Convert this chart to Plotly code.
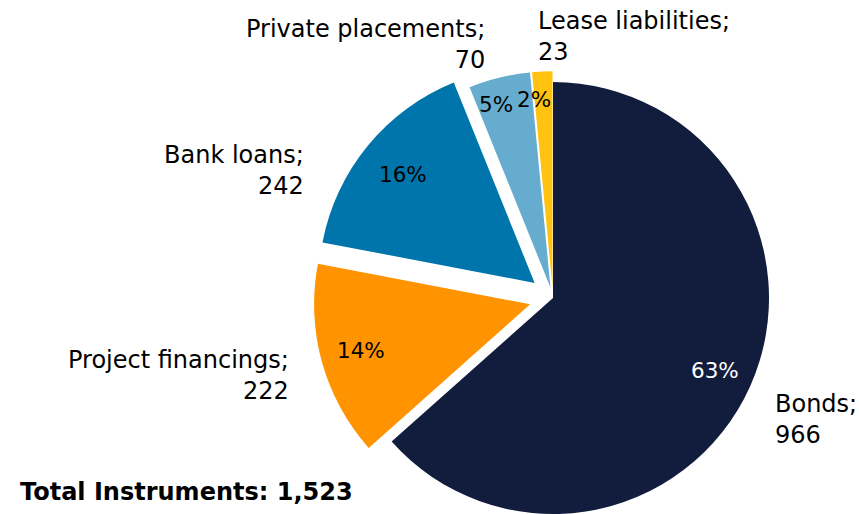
import numpy as np
import plotly.graph_objects as go

# data
labels = ["Bonds", "Project financings", "Bank loans", "Private placements", "Lease liabilities"]
counts = [966, 222, 242, 70, 23]
pct_text = ["63%", "14%", "16%", "5%", "2%"]   # as printed on the source chart
total_label = "Total Instruments: 1,523"

# styling
colors = ["#121D3D", "#FF9300", "#0075AC", "#66ACCF", "#FFC20E"]
pulls = [0, 0.11, 0.11, 0.05, 0.05]
pct_colors = ["white", "black", "black", "black", "black"]
pct_r = [0.82, 0.81, 0.79, 0.87, 0.87]     # radial spot of the % text, fraction of r
pct_xshift = [0, 0, 0, -10, -10]

# outside label anchors (pixels), alignment
lab_pos = [(773, 419, "left"), (291, 375, "right"), (306, 171, "right"),
           (487, 45, "right"), (536, 36, "left")]

W, H = 859, 538          # window is 514 tall; the pie runs off the bottom edge as in the source
FONT = "DejaVu Sans, Verdana, sans-serif"

##
## pie geometry
##
cx_px, cy_px, r = 553, 298, 216
half = r * (1 + max(pulls))
dom_x = [(cx_px - half) / W, (cx_px + half) / W]
dom_y = [1 - (cy_px + half) / H, 1 - (cy_px - half) / H]

fig = go.Figure(go.Pie(
    labels=labels,
    values=counts,
    sort=False,
    direction="clockwise",
    rotation=0,
    pull=pulls,
    marker=dict(colors=colors, line=dict(width=0)),
    textinfo="none",
    hoverinfo="label+value+percent",
    domain=dict(x=dom_x, y=dom_y),
    showlegend=False,
))

##
## percentage labels, placed on each slice's mid angle
##
vals = np.array(counts, dtype=float)
ends = np.cumsum(vals)
mids = (ends - vals / 2) / vals.sum() * 2 * np.pi

annots = []
for i in range(len(vals)):
    rho = (pct_r[i] + pulls[i]) * r
    x = cx_px + rho * np.sin(mids[i])
    y = cy_px - rho * np.cos(mids[i])
    annots.append(dict(
        x=x / W, y=1 - y / H, xref="paper", yref="paper",
        text=pct_text[i], showarrow=False, xshift=pct_xshift[i],
        font=dict(family=FONT, size=21.5, color=pct_colors[i]),
        xanchor="center", yanchor="middle",
    ))

##
## category labels
##
for i, (px, py, al) in enumerate(lab_pos):
    annots.append(dict(
        x=px / W, y=1 - py / H, xref="paper", yref="paper",
        text=f"{labels[i]};<br>{counts[i]}", showarrow=False,
        font=dict(family=FONT, size=24, color="black"),
        xanchor=al, yanchor="middle", align=al,
    ))

annots.append(dict(
    x=18 / W, y=1 - 492 / H, xref="paper", yref="paper",
    text=f"<b>{total_label}</b>", showarrow=False,
    font=dict(family=FONT, size=24, color="black"),
    xanchor="left", yanchor="middle",
))

fig.update_layout(
    width=W, height=H,
    margin=dict(l=0, r=0, t=0, b=0),
    paper_bgcolor="white",
    plot_bgcolor="white",
    annotations=annots,
)

# no page margin / scrollbars so the figure sits flush in the window
page_css = ("document.body.style.margin='0';"
            "document.body.style.overflow='hidden';"
            "document.documentElement.style.overflow='hidden';")
fig.write_html("out.html", post_script=page_css, config={"displayModeBar": False})
